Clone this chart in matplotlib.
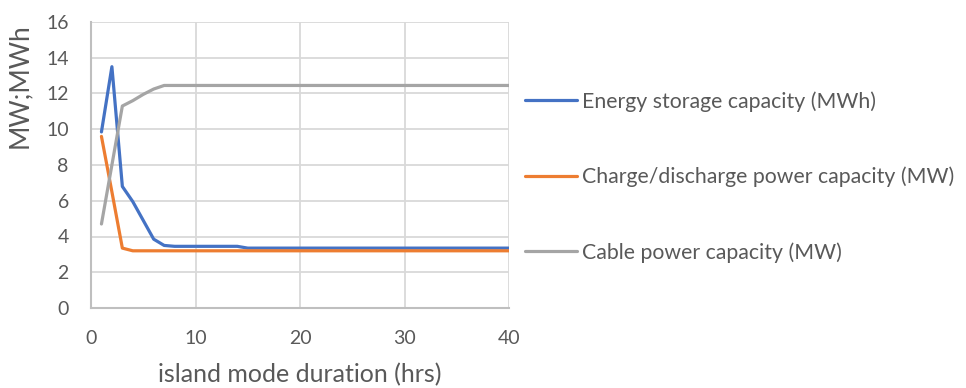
import matplotlib
matplotlib.use('Agg')
import matplotlib.pyplot as plt

plt.rcParams['font.family'] = ['Lato', 'DejaVu Sans']

# island mode duration (hrs)
hours = list(range(1, 41))
energy_mwh = [9.85, 13.5, 6.8, 5.95, 4.9, 3.85, 3.5, 3.45, 3.45, 3.45,
              3.45, 3.45, 3.45, 3.45, 3.35, 3.35, 3.35, 3.35, 3.35, 3.35,
              3.35, 3.35, 3.35, 3.35, 3.35, 3.35, 3.35, 3.35, 3.35, 3.35,
              3.35, 3.35, 3.35, 3.35, 3.35, 3.35, 3.35, 3.35, 3.35, 3.35]
power_mw = [9.6, 6.5, 3.35, 3.2, 3.2, 3.2, 3.2, 3.2, 3.2, 3.2,
            3.2, 3.2, 3.2, 3.2, 3.2, 3.2, 3.2, 3.2, 3.2, 3.2,
            3.2, 3.2, 3.2, 3.2, 3.2, 3.2, 3.2, 3.2, 3.2, 3.2,
            3.2, 3.2, 3.2, 3.2, 3.2, 3.2, 3.2, 3.2, 3.2, 3.2]
cable_mw = [4.7, 8.0, 11.3, 11.6, 11.95, 12.25, 12.45, 12.45, 12.45, 12.45,
            12.45, 12.45, 12.45, 12.45, 12.45, 12.45, 12.45, 12.45, 12.45, 12.45,
            12.45, 12.45, 12.45, 12.45, 12.45, 12.45, 12.45, 12.45, 12.45, 12.45,
            12.45, 12.45, 12.45, 12.45, 12.45, 12.45, 12.45, 12.45, 12.45, 12.45]

labels = ['Energy storage capacity (MWh)',
          'Charge/discharge power capacity (MW)',
          'Cable power capacity (MW)']
colors = ['#4472C4', '#ED7D31', '#A5A5A5']
text_col = '#595959'

fig = plt.figure(figsize=(9.66, 3.88), dpi=100)
ax = fig.add_axes([91 / 966, 1 - 308 / 388, 418 / 966, 286 / 388])

for ys, lab, col in zip([energy_mwh, power_mw, cable_mw], labels, colors):
    ax.plot(hours, ys, color=col, linewidth=2.3, label=lab, solid_capstyle='round')

ax.set_xlim(0, 40)
ax.set_ylim(0, 16)
ax.set_xticks([0, 10, 20, 30, 40])
ax.set_yticks(range(0, 17, 2))
ax.grid(True, color='#D9D9D9', linewidth=1.3)
ax.set_axisbelow(True)
for side in ['top', 'right']:
    ax.spines[side].set_visible(False)
for side in ['left', 'bottom']:
    ax.spines[side].set_color('#BFBFBF')
    ax.spines[side].set_linewidth(1.5)
ax.tick_params(length=0, labelsize=14, colors=text_col, pad=16)

ax.set_xlabel('island mode duration (hrs)', fontsize=18, color=text_col, labelpad=11)
ax.set_ylabel('MW;MWh', fontsize=19, color=text_col)
ax.yaxis.set_label_coords(-0.141, 0.776)

ax.legend(loc='center left', bbox_to_anchor=(1.017, 0.458), frameon=False,
          fontsize=15.3, handlelength=2.45, handletextpad=0.23, labelspacing=2.58,
          labelcolor=text_col, borderaxespad=0)

fig.savefig('out.png', dpi=100)
